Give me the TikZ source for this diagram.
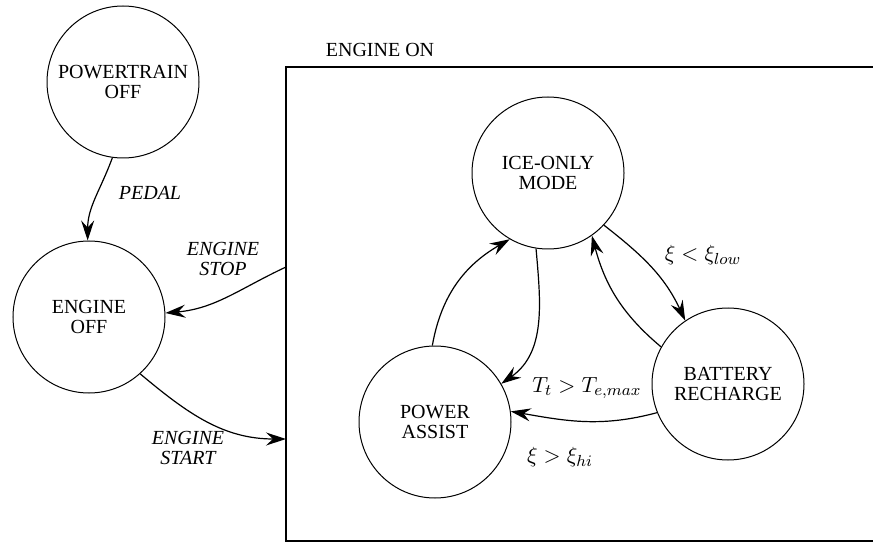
\documentclass[tikz,border=0pt]{standalone}
\usepackage{fontspec}
\setmainfont{Liberation Serif}
\usetikzlibrary{arrows.meta}
\begin{document}
\begin{tikzpicture}[x=0.5pt,y=0.5pt,
  state/.style={circle,draw,line width=0.5pt,minimum size=76pt,inner sep=0pt,
    align=center,font=\fontsize{10}{10}\selectfont},
  trans/.style={line width=0.6pt,-{Stealth[length=10pt,width=6.5pt,inset=3.5pt]}},
  cond/.style={align=center,font=\fontsize{10}{10}\selectfont\itshape},
  guard/.style={font=\fontsize{11}{13}\selectfont}]
\useasboundingbox (0,0) rectangle (873,547);

% superstate frame (open to the right)
\draw[line width=0.7pt] (873,480) -- (286,480) -- (286,6) -- (873,6);
\node[font=\fontsize{10}{10}\selectfont] (onlabel) at (380,497) {ENGINE ON};
\coordinate (stopc) at (286,280);
\coordinate (startc) at (286,108);

% states
\node[state] (ptoff) at (123,465) {POWERTRAIN\\OFF};
\node[state] (engoff) at (89,230) {ENGINE\\OFF};
\node[state] (ice) at (548,374) {ICE-ONLY\\MODE};
\node[state] (bat) at (728,163) {BATTERY\\RECHARGE};
\node[state] (pa) at (435,125) {POWER\\ASSIST};

% transitions outside the frame
\draw[trans] (ptoff.262) to[out=250,in=90] (engoff.91);
\draw[trans] (stopc) to[out=205,in=5] (engoff.3);
\draw[trans] (engoff.312) to[out=-40,in=180] (startc);

% transitions inside the frame
\draw[trans] (ice.-43) to[out=-38,in=115] (bat.124);
\draw[trans] (bat.151) to[out=140,in=-75] (ice.305);
\draw[trans] (ice.261) to[out=-85,in=35] (pa.30);
\draw[trans] (bat.202) to[out=195,in=-10] (pa.8);
\draw[trans] (pa.92) to[out=80,in=210] (ice.240);

% labels
\node[cond] (pedal) at (150,354) {PEDAL};
\node[cond] (stoplbl) at (223,288) {ENGINE\\STOP};
\node[cond] (startlbl) at (188,99) {ENGINE\\START};
\node[guard] (glow) at (703,292) {$\xi < \xi_{low}$};
\node[guard] (gtemp) at (587,159) {$T_t > T_{e,max}$};
\node[guard] (ghi) at (560,90) {$\xi > \xi_{hi}$};
\end{tikzpicture}
\end{document}
